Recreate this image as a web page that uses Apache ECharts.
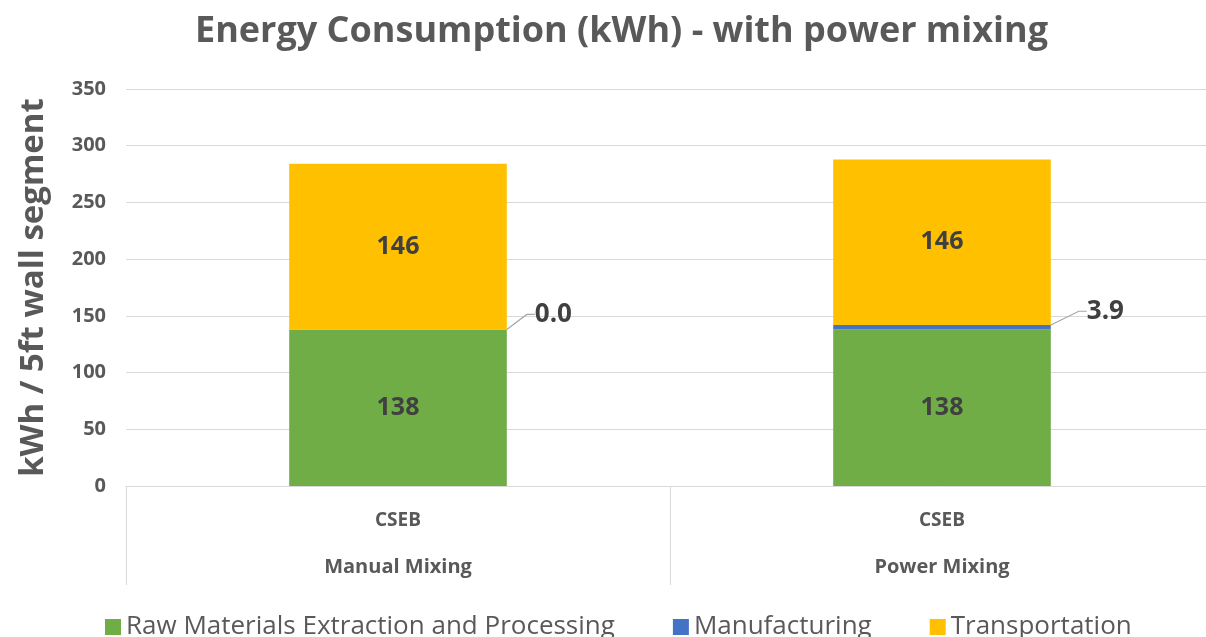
<!DOCTYPE html>
<html><head><meta charset="utf-8">
<script src="https://cdn.jsdelivr.net/npm/echarts@6/dist/echarts.min.js"></script>
<style>html,body{margin:0;padding:0;background:#fff}#c{width:1206px;height:637px}</style>
</head><body><div id="c"></div>
<script>
const title = 'Energy Consumption (kWh) - with power mixing';
const yAxisName = 'kWh / 5ft wall segment';
const categories = ['CSEB', 'CSEB'];
const groups = ['Manual Mixing', 'Power Mixing'];
const seriesNames = ['Raw Materials Extraction and Processing', 'Manufacturing', 'Transportation'];
const rawMaterials = [138, 138];
const manufacturing = [0.0, 3.9];
const transportation = [146, 146];
const colors = ['#70ad47', '#4472c4', '#ffc000'];

const FONT = 'Open Sans';
const chart = echarts.init(document.getElementById('c'), null, {renderer: 'canvas'});
const inLabel = {show: true, position: 'inside', color: '#404040', fontFamily: FONT, fontWeight: 'bold', fontSize: 25,
  formatter: p => Math.round(p.value).toString()};
chart.setOption({
  animation: false,
  color: colors,
  title: {text: title, left: 190, top: 9,
    textStyle: {fontFamily: FONT, fontWeight: 'bold', fontSize: 36, color: '#595959'}},
  grid: {left: 126, width: 1088, top: 89, bottom: 151, containLabel: false, outerBoundsMode: 'none'},
  legend: {bottom: -8, left: 100, itemGap: 58, itemWidth: 16, itemHeight: 16, icon: 'rect',
    textStyle: {fontFamily: FONT, fontSize: 26, color: '#595959'}},
  xAxis: [
    {type: 'category', data: categories, position: 'bottom',
      axisLine: {lineStyle: {color: '#d9d9d9', width: 1}},
      axisTick: {show: true, length: 99, lineStyle: {color: '#d9d9d9'}},
      axisLabel: {margin: 25, color: '#595959', fontFamily: FONT, fontWeight: 'bold', fontSize: 19}},
    {type: 'category', data: groups, position: 'bottom', gridIndex: 0,
      axisLine: {show: false}, axisTick: {show: false},
      axisLabel: {margin: 71, color: '#595959', fontFamily: FONT, fontWeight: 'bold', fontSize: 20}}
  ],
  yAxis: {type: 'value', min: 0, max: 350, interval: 50,
    name: yAxisName, nameLocation: 'middle', nameGap: 76,
    nameTextStyle: {fontFamily: FONT, fontWeight: 'bold', fontSize: 33, color: '#595959'},
    axisLine: {show: false}, axisTick: {show: false},
    axisLabel: {margin: 20, color: '#595959', fontFamily: FONT, fontWeight: 'bold', fontSize: 20},
    splitLine: {lineStyle: {color: '#d9d9d9', width: 1}}},
  series: [
    {name: seriesNames[0], type: 'bar', stack: 's', data: rawMaterials, barWidth: '40%', label: inLabel},
    {name: seriesNames[1], type: 'bar', stack: 's', data: manufacturing, barWidth: '40%',
      label: {show: true, position: 'right', distance: 0, color: '#404040', fontFamily: FONT, fontWeight: 'bold', fontSize: 26,
        formatter: p => p.value.toFixed(1)},
      labelLayout: p => (p.dataIndex === 0 ? {dx: 28, dy: -15} : {dx: 36, dy: -16}),
      labelLine: {show: true, length2: 8, lineStyle: {color: '#a6a6a6', width: 1.2}}},
    {name: seriesNames[2], type: 'bar', stack: 's', data: transportation, barWidth: '40%', label: inLabel}
  ]
});
</script></body></html>
